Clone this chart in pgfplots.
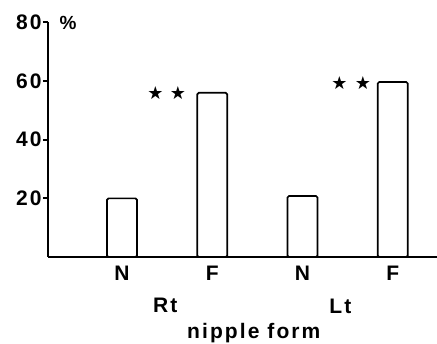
\documentclass[border=0pt]{standalone}
\usepackage{fontspec}
\setmainfont{Liberation Sans}[LetterSpace=10]
\newfontfamily\symfont{DejaVu Sans}
\usepackage{pgfplots}
\pgfplotsset{compat=1.18}
\begin{document}
\begin{tikzpicture}[x=1pt,y=1pt]
\useasboundingbox (-48,-87) rectangle (389,257);
\begin{axis}[
  at={(0,0)}, anchor=south west,
  scale only axis, width=389pt, height=234.5pt,
  xmin=0.18, xmax=4.49, ymin=0, ymax=80,
  axis x line=bottom, axis y line=left,
  axis line style={-, line width=2pt},
  xtick={1,2,3,4}, xticklabels={N,F,N,F},
  ytick={20,40,60,80},
  x tick style={draw=none},
  y tick style={line width=2pt, black},
  tick align=outside, major tick length=5pt,
  tick label style={font=\fontsize{21}{24}\selectfont\bfseries},
  /pgf/number format/assume math mode=true,
  xticklabel style={yshift=-1pt},
  yticklabel style={xshift=2pt},
  clip=false,
]
\addplot[ybar, bar width=30pt, draw=black, fill=white, line width=1.7pt, rounded corners=1.5pt]
  coordinates {(1,20) (2,56) (3,20.8) (4,59.7)};
\node[font=\fontsize{21}{24}\selectfont\bfseries] at (axis cs:1.48,0) [yshift=-48pt] {Rt};
\node[font=\fontsize{21}{24}\selectfont\bfseries] at (axis cs:3.42,0) [yshift=-49pt] {Lt};
\node[font=\fontsize{21}{24}\selectfont\bfseries] at (axis cs:2.46,0) [yshift=-76pt] {nipple form};
\node[font=\fontsize{19}{22}\selectfont\bfseries, anchor=west] at (axis cs:0.18,80) [xshift=8pt] {\%};
\node[font=\symfont\fontsize{18}{20}\selectfont] at (axis cs:1.37,56) {★};
\node[font=\symfont\fontsize{18}{20}\selectfont] at (axis cs:1.62,56) {★};
\node[font=\symfont\fontsize{18}{20}\selectfont] at (axis cs:3.41,59.4) {★};
\node[font=\symfont\fontsize{18}{20}\selectfont] at (axis cs:3.67,59.4) {★};
\end{axis}
\end{tikzpicture}
\end{document}
